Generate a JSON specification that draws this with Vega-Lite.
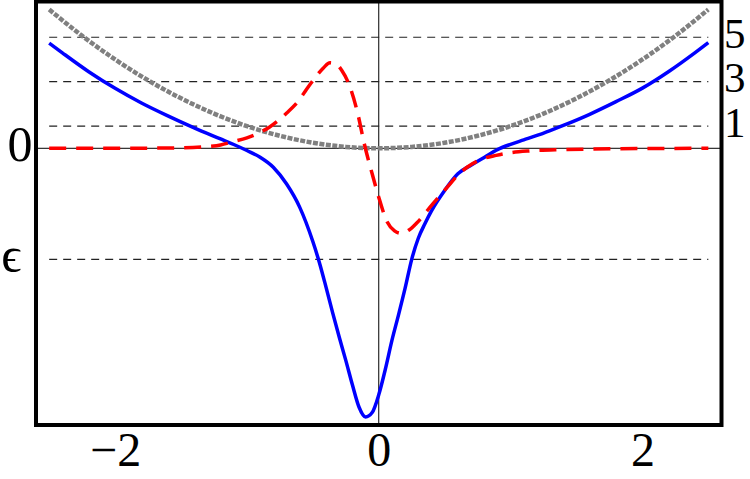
{
  "$schema": "https://vega.github.io/schema/vega-lite/v6.json",
  "autosize": {"type": "none"},
  "width": 685.5,
  "height": 423.5,
  "padding": {"left": 36, "top": 1.5, "right": 28.5, "bottom": 54},
  "config": {
    "font": "Times New Roman, DejaVu Serif Condensed, DejaVu Serif",
    "view": {"stroke": "#000000", "strokeWidth": 4},
    "axis": {"grid": false, "domain": false, "ticks": false, "labelFont": "Times New Roman, DejaVu Serif Condensed, DejaVu Serif", "labelFontSize": 48, "labelColor": "#000000", "title": null, "labelFlush": false, "labelOverlap": false}
  },
  "datasets": {
    "blue": [
      {"x": -2.5, "y": 4.74}, {"x": -2.4, "y": 4.3}, {"x": -2.2, "y": 3.45}, {"x": -2.0, "y": 2.7},
      {"x": -1.8, "y": 2.04}, {"x": -1.6, "y": 1.46}, {"x": -1.4, "y": 0.92}, {"x": -1.2, "y": 0.42},
      {"x": -1.1, "y": 0.17}, {"x": -1.0, "y": -0.1}, {"x": -0.9, "y": -0.4}, {"x": -0.8, "y": -0.85},
      {"x": -0.7, "y": -1.6}, {"x": -0.6, "y": -2.65}, {"x": -0.5, "y": -4.2}, {"x": -0.45, "y": -5.15},
      {"x": -0.4, "y": -6.25}, {"x": -0.35, "y": -7.4}, {"x": -0.3, "y": -8.5}, {"x": -0.25, "y": -9.55},
      {"x": -0.2, "y": -10.65}, {"x": -0.15, "y": -11.65}, {"x": -0.1, "y": -12.1}, {"x": -0.05, "y": -11.9},
      {"x": 0.0, "y": -11.1}, {"x": 0.05, "y": -9.95}, {"x": 0.1, "y": -8.65}, {"x": 0.15, "y": -7.5},
      {"x": 0.2, "y": -6.3}, {"x": 0.25, "y": -5.0}, {"x": 0.3, "y": -4.05}, {"x": 0.35, "y": -3.4},
      {"x": 0.4, "y": -2.82}, {"x": 0.5, "y": -1.9}, {"x": 0.6, "y": -1.15}, {"x": 0.7, "y": -0.76},
      {"x": 0.8, "y": -0.41}, {"x": 0.9, "y": -0.06}, {"x": 1.0, "y": 0.18}, {"x": 1.1, "y": 0.38},
      {"x": 1.2, "y": 0.58}, {"x": 1.3, "y": 0.8}, {"x": 1.4, "y": 1.03}, {"x": 1.6, "y": 1.53},
      {"x": 1.8, "y": 2.1}, {"x": 2.0, "y": 2.71}, {"x": 2.2, "y": 3.46}, {"x": 2.4, "y": 4.31},
      {"x": 2.5, "y": 4.76}
    ],
    "red": [
      {"x": -2.5, "y": 0}, {"x": -2.0, "y": 0.0}, {"x": -1.5, "y": 0.02}, {"x": -1.3, "y": 0.08},
      {"x": -1.2, "y": 0.15}, {"x": -1.11, "y": 0.29}, {"x": -1.0, "y": 0.47}, {"x": -0.9, "y": 0.72},
      {"x": -0.83, "y": 0.95}, {"x": -0.7, "y": 1.58}, {"x": -0.6, "y": 2.2}, {"x": -0.55, "y": 2.64},
      {"x": -0.48, "y": 3.2}, {"x": -0.42, "y": 3.62}, {"x": -0.37, "y": 3.85}, {"x": -0.33, "y": 3.82},
      {"x": -0.28, "y": 3.5}, {"x": -0.22, "y": 2.79}, {"x": -0.16, "y": 1.58}, {"x": -0.11, "y": 0.21},
      {"x": -0.05, "y": -1.15}, {"x": 0.0, "y": -2.2}, {"x": 0.06, "y": -3.27}, {"x": 0.12, "y": -3.72},
      {"x": 0.17, "y": -3.83}, {"x": 0.23, "y": -3.68}, {"x": 0.29, "y": -3.35}, {"x": 0.41, "y": -2.5},
      {"x": 0.52, "y": -1.75}, {"x": 0.61, "y": -1.15}, {"x": 0.71, "y": -0.7}, {"x": 0.8, "y": -0.45},
      {"x": 0.89, "y": -0.32}, {"x": 1.0, "y": -0.2}, {"x": 1.14, "y": -0.12}, {"x": 1.4, "y": -0.06},
      {"x": 1.8, "y": -0.02}, {"x": 2.5, "y": 0}
    ],
    "gray": [
      {"x": -2.5, "y": 6.25}, {"x": -2.25, "y": 5.0625}, {"x": -2.0, "y": 4.0}, {"x": -1.75, "y": 3.0625},
      {"x": -1.5, "y": 2.25}, {"x": -1.25, "y": 1.5625}, {"x": -1.0, "y": 1.0}, {"x": -0.75, "y": 0.5625},
      {"x": -0.5, "y": 0.25}, {"x": -0.25, "y": 0.0625}, {"x": 0.0, "y": 0.0}, {"x": 0.25, "y": 0.0625},
      {"x": 0.5, "y": 0.25}, {"x": 0.75, "y": 0.5625}, {"x": 1.0, "y": 1.0}, {"x": 1.25, "y": 1.5625},
      {"x": 1.5, "y": 2.25}, {"x": 1.75, "y": 3.0625}, {"x": 2.0, "y": 4.0}, {"x": 2.25, "y": 5.0625},
      {"x": 2.5, "y": 6.25}
    ],
    "levels": [
      {"level": 5, "xs": -2.5, "xe": 2.5},
      {"level": 3, "xs": -2.5, "xe": 2.5},
      {"level": 1, "xs": -2.5, "xe": 2.5},
      {"level": -5, "xs": -2.5, "xe": 2.5}
    ]
  },
  "resolve": {"scale": {"y": "independent"}},
  "layer": [
    {
      "data": {"values": [{"x": 0}]},
      "mark": {"type": "rule", "color": "#000000", "strokeWidth": 1},
      "encoding": {
        "x": {"field": "x", "type": "quantitative", "scale": {"domain": [-2.6, 2.6], "nice": false, "zero": false}, "axis": {"values": [-2, 0, 2], "labelPadding": 2}}
      }
    },
    {
      "data": {"values": [{"y": 0}]},
      "mark": {"type": "rule", "color": "#000000", "strokeWidth": 1},
      "encoding": {
        "y": {"field": "y", "type": "quantitative", "scale": {"domain": [-12.46, 6.61], "nice": false, "zero": false},
          "axis": {"orient": "left", "values": [0, -5], "labelOffset": -3, "labelFontSize": 50,
            "labelPadding": {"condition": {"test": "datum.value == -5", "value": 15}, "value": 4},
            "labelExpr": "datum.value == 0 ? '0' : 'ϵ'"}}
      }
    },
    {
      "data": {"name": "levels"},
      "mark": {"type": "rule", "color": "#222222", "strokeWidth": 1.2, "strokeDash": [8, 6]},
      "encoding": {
        "x": {"field": "xs", "type": "quantitative", "scale": {"domain": [-2.6, 2.6], "nice": false, "zero": false}, "axis": {"values": [-2, 0, 2], "labelPadding": 2}},
        "x2": {"field": "xe"},
        "y": {"field": "level", "type": "quantitative", "scale": {"domain": [-12.46, 6.61], "nice": false, "zero": false},
          "axis": {"orient": "right", "values": [1, 3, 5], "labelPadding": 2, "labelOffset": -3, "labelFontSize": 43}}
      }
    },
    {
      "data": {"name": "gray"},
      "mark": {"type": "line", "color": "#808080", "strokeWidth": 4.5, "strokeDash": [5, 1.5], "interpolate": "monotone"},
      "encoding": {
        "x": {"field": "x", "type": "quantitative", "scale": {"domain": [-2.6, 2.6], "nice": false, "zero": false}, "axis": {"values": [-2, 0, 2], "labelPadding": 2}},
        "y": {"field": "y", "type": "quantitative", "scale": {"domain": [-12.46, 6.61], "nice": false, "zero": false}, "axis": null}
      }
    },
    {
      "data": {"name": "blue"},
      "mark": {"type": "line", "color": "#0000ff", "strokeWidth": 3.5, "interpolate": "monotone"},
      "encoding": {
        "x": {"field": "x", "type": "quantitative", "scale": {"domain": [-2.6, 2.6], "nice": false, "zero": false}, "axis": {"values": [-2, 0, 2], "labelPadding": 2}},
        "y": {"field": "y", "type": "quantitative", "scale": {"domain": [-12.46, 6.61], "nice": false, "zero": false}, "axis": null}
      }
    },
    {
      "data": {"name": "red"},
      "mark": {"type": "line", "color": "#ff0000", "strokeWidth": 3.5, "strokeDash": [17, 10], "interpolate": "monotone"},
      "encoding": {
        "x": {"field": "x", "type": "quantitative", "scale": {"domain": [-2.6, 2.6], "nice": false, "zero": false}, "axis": {"values": [-2, 0, 2], "labelPadding": 2}},
        "y": {"field": "y", "type": "quantitative", "scale": {"domain": [-12.46, 6.61], "nice": false, "zero": false}, "axis": null}
      }
    }
  ]
}
